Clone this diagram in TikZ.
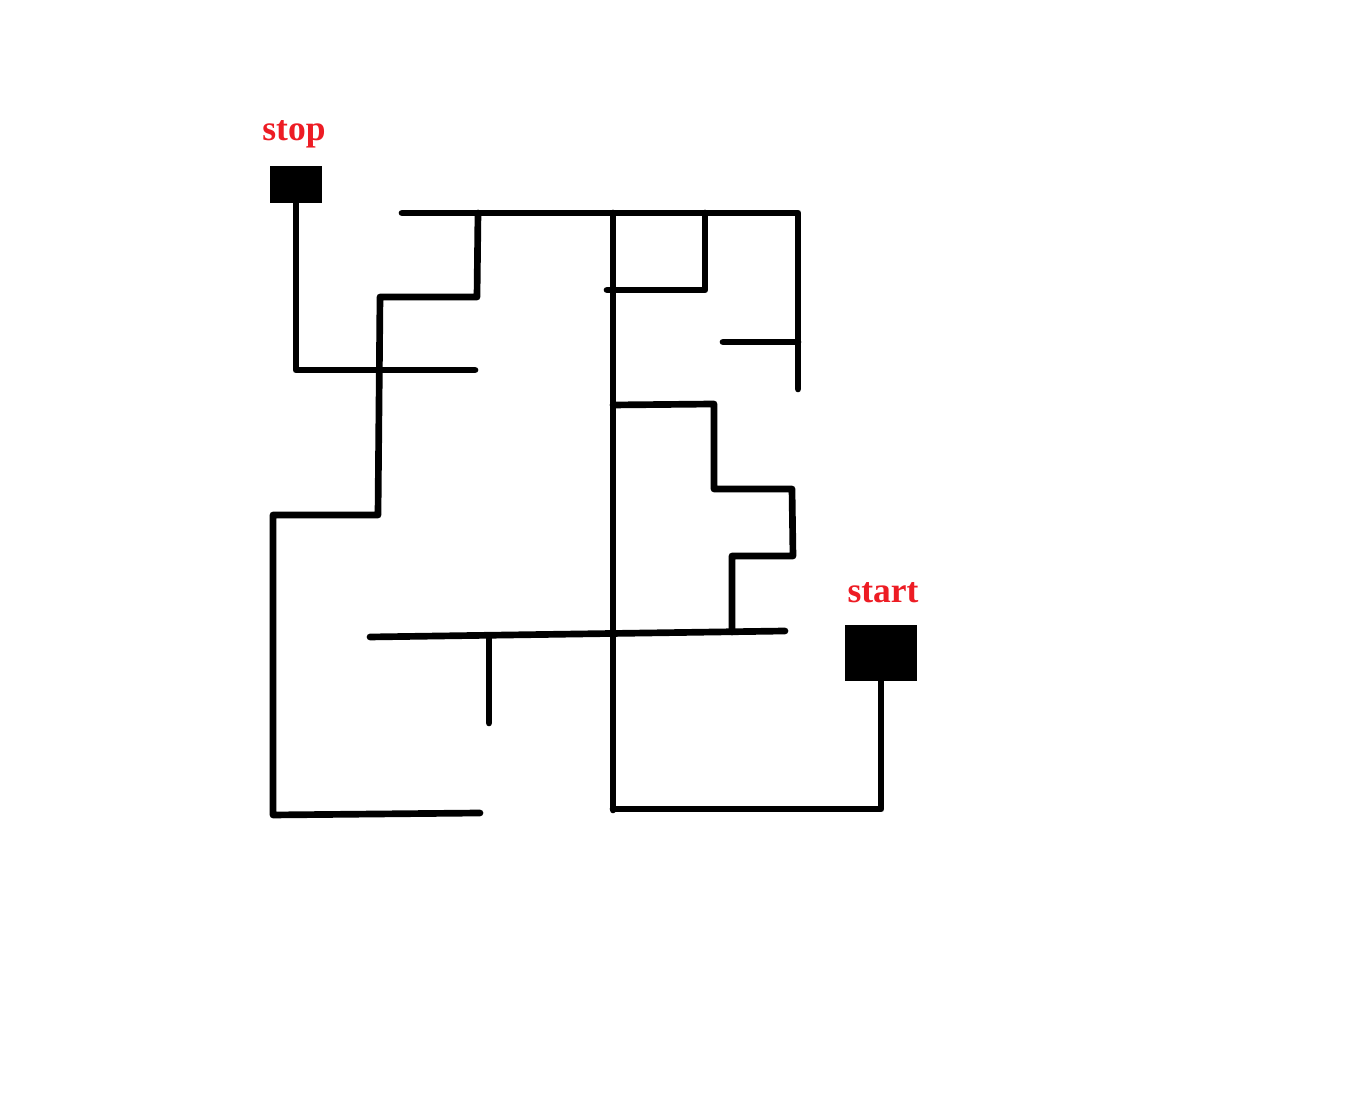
\documentclass[tikz,border=0pt]{standalone}
\usepackage{fontspec}
\setmainfont{Liberation Serif}
\usetikzlibrary{positioning}
\definecolor{labelred}{RGB}{237,28,36}

\begin{document}
\begin{tikzpicture}[yscale=-1,
    wall/.style={line width=1.9pt, line cap=round, line join=round},
    endbox/.style={fill=black, draw=none, inner sep=0pt},
    endlabel/.style={text=labelred, font=\fontsize{10.1}{12}\selectfont\bfseries, inner sep=0pt}]
  \useasboundingbox (0,0) rectangle (13.5,10.98);
  % end points
  \node[endbox, minimum width=0.52cm, minimum height=0.37cm] (stop) at (2.96,1.845) {};
  \node[endbox, minimum width=0.72cm, minimum height=0.56cm] (start) at (8.81,6.53) {};
  \node[endlabel, above=0.17cm of stop, xshift=-0.02cm] (stoplabel) {stop};
  \node[endlabel, above=0.21cm of start, xshift=0.02cm] (startlabel) {start};
  % way out to stop
  \draw[wall] (stop.south) |- (4.75,3.70);
  % left part
  \draw[wall] (4.78,2.13) -- (4.77,2.97) -- (3.80,2.97) -- (3.78,5.15) -- (2.73,5.15)
        -- (2.73,8.15) -- (4.80,8.13);
  \draw[wall] (4.02,2.13) -- (7.98,2.13) -- (7.98,3.89);
  \draw[wall] (7.23,3.42) -- (7.98,3.42);
  % middle wall
  \draw[wall] (6.13,2.13) -- (6.13,8.10);
  \draw[wall] (6.07,2.90) -- (7.05,2.90) -- (7.05,2.13);
  \draw[wall] (6.13,4.05) -- (7.14,4.04) -- (7.14,4.89) -- (7.92,4.89) -- (7.93,5.56)
        -- (7.32,5.56) -- (7.32,6.32);
  \draw[wall] (3.70,6.37) -- (7.85,6.31);
  \draw[wall] (4.89,6.36) -- (4.89,7.23);
  % way in from start
  \draw[wall] (start.south) |- (6.13,8.09);
\end{tikzpicture}
\end{document}
